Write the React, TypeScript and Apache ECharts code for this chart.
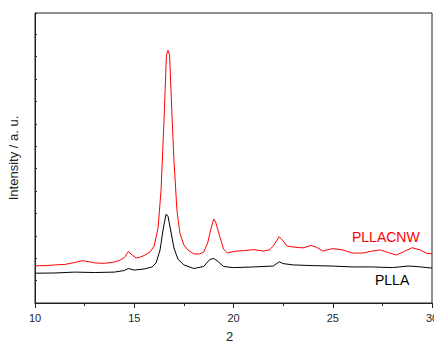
import React, { useEffect, useRef } from "react";
import * as echarts from "echarts";

const xTicks = [10, 15, 20, 25, 30];

const pllacnwX = [10.0, 10.5, 11.0, 11.5, 12.0, 12.4, 12.8, 13.0, 13.5, 14.0, 14.3, 14.5, 14.7, 14.9, 15.1, 15.3, 15.5, 15.8, 16.0, 16.2, 16.35, 16.5, 16.62, 16.7, 16.78, 16.9, 17.0, 17.15, 17.3, 17.5, 17.7, 18.0, 18.3, 18.5, 18.7, 18.85, 19.0, 19.1, 19.3, 19.5, 19.7, 20.0, 20.5, 21.0, 21.5, 21.8, 22.0, 22.3, 22.5, 22.7, 23.0, 23.5, 23.9, 24.2, 24.5, 25.0, 25.5, 26.0, 26.5, 27.0, 27.4, 27.8, 28.2, 28.6, 29.0, 29.4, 29.7, 30.0];
const pllacnwY = [166, 167, 170, 172, 181, 189, 183, 179, 177, 183, 192, 203, 229, 214, 201, 205, 212, 228, 254, 335, 504, 817, 1107, 1129, 1107, 839, 638, 415, 312, 259, 237, 219, 219, 228, 268, 326, 375, 361, 299, 241, 223, 230, 234, 238, 232, 237, 254, 296, 277, 254, 250, 246, 257, 248, 232, 243, 237, 223, 223, 232, 237, 225, 214, 230, 247, 237, 223, 219];

const pllaX = [10.0, 11.0, 12.0, 13.0, 14.0, 14.5, 14.7, 15.0, 15.5, 15.9, 16.1, 16.3, 16.45, 16.6, 16.7, 16.85, 17.0, 17.2, 17.5, 18.0, 18.5, 18.8, 19.0, 19.2, 19.5, 20.0, 21.0, 22.0, 22.3, 22.5, 23.0, 24.0, 25.0, 26.0, 27.0, 28.0, 28.8, 29.2, 30.0];
const pllaY = [133, 134, 138, 136, 138, 145, 154, 147, 152, 161, 179, 237, 326, 396, 388, 317, 246, 196, 170, 154, 163, 194, 199, 187, 163, 158, 161, 165, 184, 176, 170, 167, 165, 161, 161, 158, 165, 163, 156];

const seriesNames = ["PLLACNW", "PLLA"];

export default function App() {
  const ref = useRef<HTMLDivElement>(null);
  useEffect(() => {
    if (!ref.current) return;
    const chart = echarts.init(ref.current, undefined, { renderer: "svg" });
    const font = "Arial, 'Liberation Sans', Helvetica, sans-serif";
    chart.setOption({
      animation: false,
      grid: {
        left: 35,
        right: 2,
        top: 13,
        bottom: 40,
        outerBoundsMode: "none",
        containLabel: false,
        show: true,
        borderColor: "#222",
        borderWidth: 1,
        backgroundColor: "transparent",
      },
      xAxis: {
        type: "value",
        min: xTicks[0],
        max: xTicks[xTicks.length - 1],
        interval: 5,
        axisLine: { show: true, onZero: false, lineStyle: { color: "#222", width: 1 } },
        axisTick: { show: true, inside: false, length: 5, lineStyle: { color: "#222" } },
        minorTick: { show: true, splitNumber: 2, length: 3, lineStyle: { color: "#222" } },
        splitLine: { show: false },
        axisLabel: { color: "#222", fontSize: 11, fontFamily: font, margin: 9 },
      },
      yAxis: {
        type: "value",
        min: 0,
        max: 1295,
        interval: 100,
        name: "Intensity / a. u.",
        nameLocation: "middle",
        nameGap: 15,
        nameTextStyle: { color: "#222", fontSize: 13, fontFamily: font },
        axisLine: { show: true, onZero: false, lineStyle: { color: "#222", width: 1 } },
        axisTick: { show: true, inside: true, length: 2, lineStyle: { color: "#222" } },
        splitLine: { show: false },
        axisLabel: { show: false },
      },
      series: [
        {
          name: seriesNames[0],
          type: "line",
          data: pllacnwX.map((x, i) => [x, pllacnwY[i]]),
          showSymbol: false,
          symbol: "none",
          lineStyle: { color: "#ff0000", width: 1 },
          itemStyle: { color: "#ff0000" },
        },
        {
          name: seriesNames[1],
          type: "line",
          data: pllaX.map((x, i) => [x, pllaY[i]]),
          showSymbol: false,
          symbol: "none",
          lineStyle: { color: "#000000", width: 1 },
          itemStyle: { color: "#000000" },
        },
      ],
      graphic: [
        {
          type: "text",
          x: 352,
          y: 237,
          style: { text: seriesNames[0], fill: "#ff0000", fontSize: 14, fontFamily: font, verticalAlign: "middle", align: "left" },
        },
        {
          type: "text",
          x: 375,
          y: 280,
          style: { text: seriesNames[1], fill: "#000000", fontSize: 14, fontFamily: font, verticalAlign: "middle", align: "left" },
        },
        {
          type: "text",
          x: 226,
          y: 330,
          style: { text: "2", fill: "#222", fontSize: 13, fontFamily: font, verticalAlign: "top", align: "left" },
        },
      ],
    });
    return () => chart.dispose();
  }, []);
  return <div ref={ref} style={{ width: 434, height: 343, position: "absolute", left: 0, top: 0 }} />;
}
